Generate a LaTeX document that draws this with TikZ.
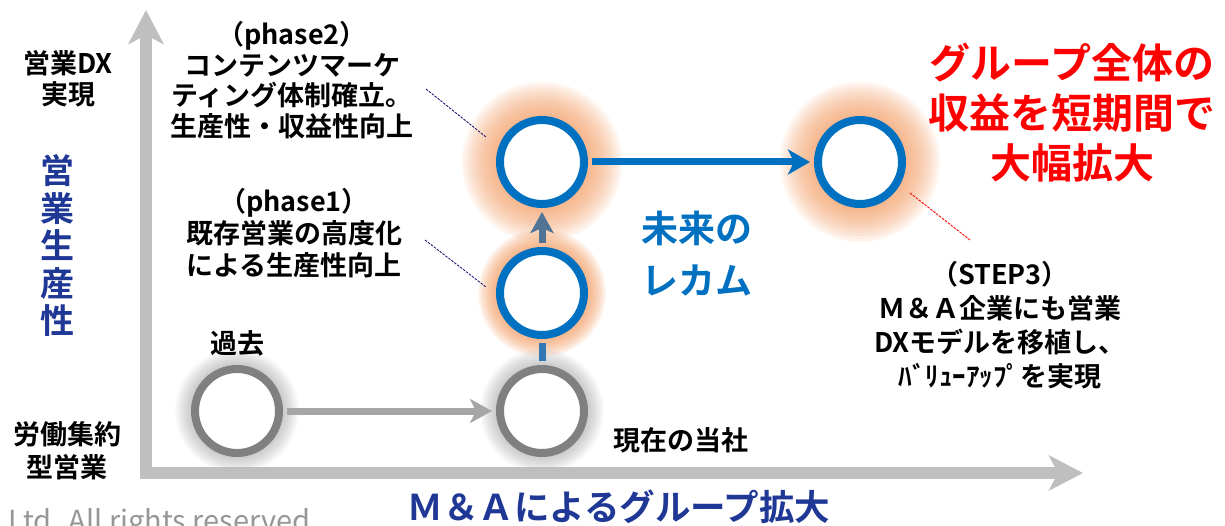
\documentclass[tikz,border=0pt]{standalone}
\usepackage{fontspec}
\setmainfont{Noto Sans CJK JP}[BoldFont={Noto Sans CJK JP Bold}]
\usetikzlibrary{arrows.meta}
\definecolor{axisgray}{RGB}{191,191,191}
\definecolor{ringgray}{RGB}{128,128,128}
\definecolor{arrowgray}{RGB}{166,166,166}
\definecolor{ringblue}{RGB}{0,112,192}
\definecolor{navyblue}{RGB}{31,56,150}
\definecolor{glowc}{RGB}{241,150,90}
\definecolor{leadnavy}{RGB}{32,32,120}
\definecolor{midblue}{RGB}{80,115,150}
\definecolor{linkblue}{RGB}{50,120,180}
\definecolor{copygray}{RGB}{150,150,150}
\newcommand\myglow[3]{%
  \foreach \k in {0,...,11}{\fill[#3] (#1) circle[radius={46+(#2-46)*\k/11}];}}
\begin{document}
\begin{tikzpicture}[x=1pt,y=-1pt,
  ringG/.style={circle, draw=ringgray, line width=8pt, fill=white, minimum size=84pt, inner sep=0pt},
  ringB/.style={circle, draw=ringblue, line width=8pt, fill=white, minimum size=84pt, inner sep=0pt},
  blk/.style={font=\bfseries\fontsize{27}{31}\selectfont, align=center, text=black, inner sep=0pt},
  axisarrow/.style={axisgray, line width=12pt, -{Stealth[length=34pt,width=35pt,inset=9pt]}},
  glowstyle/.style={glowc, opacity=0.095},
  shadowstyle/.style={black, opacity=0.02},
  lead/.style={line width=0.9pt, dash pattern=on 2.5pt off 1.2pt}]
\useasboundingbox (0,0) rectangle (1225,526);
% centres
\coordinate (cpast) at (237,411);
\coordinate (cnow) at (542,411);
\coordinate (cp1) at (542,293);
\coordinate (cp2) at (542,162);
\coordinate (cgoal) at (860,162);
% glows and shadows
\myglow{cp1}{64}{glowstyle}
\myglow{cp2}{80}{glowstyle}
\myglow{cgoal}{80}{glowstyle}
\myglow{cpast}{62}{shadowstyle}
\myglow{cnow}{62}{shadowstyle}
% axes
\coordinate (yo) at (146,479);
\coordinate (ytip) at (146,10);
\coordinate (xo) at (140,473);
\coordinate (xtip) at (1083,473);
\draw[axisarrow] (yo) -- (ytip);
\draw[axisarrow] (xo) -- (xtip);
% circles
\node[ringG] (past) at (cpast) {};
\node[ringG] (now) at (cnow) {};
\node[ringB] (p1) at (cp1) {};
\node[ringB] (p2) at (cp2) {};
\node[ringB] (goal) at (cgoal) {};
% connectors
\draw[arrowgray, line width=7pt, shorten <=4pt, shorten >=4pt,
  -{Stealth[length=22pt,width=24pt,inset=6pt]}] (past) -- (now);
\draw[linkblue, line width=7pt, shorten <=4pt, shorten >=4pt] (now) -- (p1);
\draw[midblue, line width=7pt, shorten <=4pt, shorten >=4pt,
  -{Stealth[length=21pt,width=23pt,inset=5pt]}] (p1) -- (p2);
\draw[ringblue, line width=7pt, shorten <=4pt, shorten >=4pt,
  -{Stealth[length=22pt,width=25pt,inset=6pt]}] (p2) -- (goal);
% leaders
\coordinate (l2a) at (426,89);
\coordinate (l2b) at (486,137);
\coordinate (l1a) at (425,240);
\coordinate (l1b) at (486,287);
\coordinate (l3a) at (910,193);
\coordinate (l3b) at (970,240);
\draw[lead, leadnavy] (l2a) -- (l2b);
\draw[lead, leadnavy] (l1a) -- (l1b);
\draw[lead, red] (l3a) -- (l3b);
% texts
\node[blk] (tdx) at (68,79) {営業DX\\実現};
\node[blk, font=\bfseries\fontsize{27}{33}\selectfont] (tlab) at (67,451) {労働集約\\型営業};
\node[blk, text=navyblue, font=\bfseries\fontsize{34}{37.5}\selectfont] (tyax) at (57,246) {営\\業\\生\\産\\性};
\node[blk, font=\bfseries\fontsize{27}{30.5}\selectfont] (tp2) at (292,80) {（phase2）\\コンテンツマーケ\\ティング体制確立。\\生産性・収益性向上};
\node[blk, font=\bfseries\fontsize{27}{32}\selectfont] (tp1) at (294,233) {（phase1）\\既存営業の高度化\\による生産性向上};
\node[blk] (tpast) at (237,343) {過去};
\node[blk] (tnow) at (681,440) {現在の当社};
\node[blk, text=ringblue, font=\bfseries\fontsize{37}{52}\selectfont] (tmirai) at (697,254) {未来の\\レカム};
\node[blk, text=red, font=\bfseries\fontsize{41}{50}\selectfont] (tgoal) at (1072,113) {グループ全体の\\収益を短期間で\\大幅拡大};
\node[blk, font=\bfseries\fontsize{27}{34}\selectfont] (tstep) at (1000,325) {（STEP3）\\Ｍ＆Ａ企業にも営業\\DXモデルを移植し、\\ﾊﾞﾘｭｰｱｯﾌﾟを実現};
\node[blk, text=navyblue, font=\bfseries\fontsize{35.5}{40}\selectfont] (txax) at (619,507) {Ｍ＆Ａによるグループ拡大};
\node[anchor=base west, inner sep=0pt, text=copygray, font=\fontsize{29}{32}\selectfont] (tcopy) at (8,531) {Ltd. All rights reserved};
\end{tikzpicture}
\end{document}
